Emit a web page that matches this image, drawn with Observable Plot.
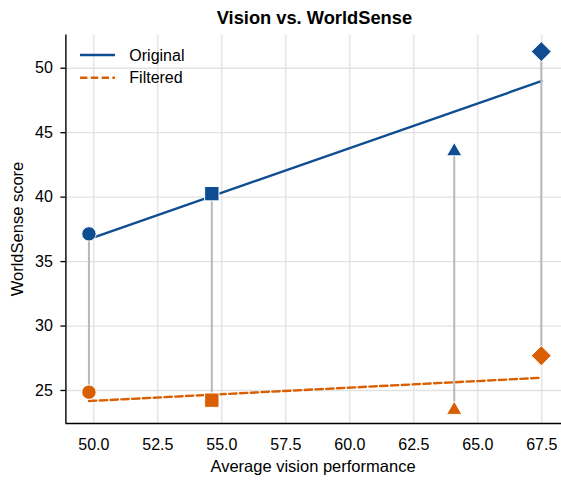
<!DOCTYPE html>
<html>
<head>
<meta charset="utf-8">
<script src="https://cdn.jsdelivr.net/npm/d3@7"></script>
<script src="https://cdn.jsdelivr.net/npm/@observablehq/plot@0.6"></script>
<style>
  html, body { margin: 0; padding: 0; background: #fff; }
  #wrap { position: relative; width: 561px; height: 481px; font-family: "Liberation Sans", Arial, sans-serif; }
  #wrap svg { display: block; }
  #overlay { position: absolute; left: 0; top: 0; pointer-events: none; }
</style>
</head>
<body>
<div id="wrap"></div>
<script>
// ---- data ----
const seriesNames = ["Original", "Filtered"];
const visionScores = [49.81, 54.61, 64.08, 67.48];
const originalScores = [37.15, 40.27, 43.72, 51.29];
const filteredScores = [24.87, 24.25, 23.66, 27.70];
const markerShapes = ["circle", "square", "triangle", "diamond2"];
const xTicks = [50.0, 52.5, 55.0, 57.5, 60.0, 62.5, 65.0, 67.5];
const yTicks = [25, 30, 35, 40, 45, 50];
const xDomain = [48.91, 68.27];
const yDomain = [22.44, 52.57];

const colors = { Original: "#0f4d92", Filtered: "#d95f02" };

const points = visionScores.map((x, i) => ({
  x, original: originalScores[i], filtered: filteredScores[i], shape: markerShapes[i]
}));
const long = points.flatMap(p => [
  { x: p.x, y: p.original, series: "Original", shape: p.shape },
  { x: p.x, y: p.filtered, series: "Filtered", shape: p.shape }
]);

const markerStyle = {
  circle: { r: 7.2, dy: 0 },
  square: { r: 8.1, dy: 0 },
  triangle: { r: 5.7, dy: 2.2 },
  diamond2: { r: 9, dy: 0 }
};

const dotMarks = markerShapes.map(s => Plot.dot(long.filter(d => d.shape === s), {
  x: "x", y: "y", symbol: s, r: markerStyle[s].r, dy: markerStyle[s].dy,
  fill: d => colors[d.series], stroke: "white", strokeWidth: 1
}));

const chart = Plot.plot({
  width: 561,
  height: 481,
  marginTop: 34.6,
  marginBottom: 58,
  marginLeft: 65.4,
  marginRight: 0,
  style: { fontFamily: "'Liberation Sans', Arial, sans-serif", fontSize: "16px", color: "black", background: "white" },
  x: { domain: xDomain },
  y: { domain: yDomain },
  marks: [
    Plot.gridX(xTicks, { stroke: "#e2e2e2", strokeOpacity: 1, strokeWidth: 1.3 }),
    Plot.gridY(yTicks, { stroke: "#e2e2e2", strokeOpacity: 1, strokeWidth: 1.3 }),
    Plot.linearRegressionY(long.filter(d => d.series === "Original"), {
      x: "x", y: "y", stroke: colors.Original, strokeWidth: 2.4, ci: 0
    }),
    Plot.linearRegressionY(long.filter(d => d.series === "Filtered"), {
      x: "x", y: "y", stroke: colors.Filtered, strokeWidth: 2.4, ci: 0, strokeDasharray: "7.4,3.4"
    }),
    Plot.ruleX(points, { x: "x", y1: "original", y2: "filtered", stroke: "#b8b8b8", strokeWidth: 2 }),
    ...dotMarks,
    Plot.axisX(xTicks, { tickSize: 0, tickPadding: 15, tickFormat: d3.format(".1f"), label: null, fontSize: 16 }),
    Plot.axisY(yTicks, { tickSize: 5, tickPadding: 8, label: null, fontSize: 16, strokeWidth: 1.3 }),
    Plot.ruleX([xDomain[0]], { stroke: "black", strokeWidth: 1.4 }),
    Plot.ruleY([yDomain[0]], { stroke: "black", strokeWidth: 1.4 })
  ]
});

const wrap = document.getElementById("wrap");
wrap.appendChild(chart);

// overlay: title, axis labels, legend
const ns = "http://www.w3.org/2000/svg";
const ov = document.createElementNS(ns, "svg");
ov.setAttribute("id", "overlay");
ov.setAttribute("width", 561);
ov.setAttribute("height", 481);
ov.setAttribute("font-family", "'Liberation Sans', Arial, sans-serif");
function txt(str, attrs) {
  const t = document.createElementNS(ns, "text");
  for (const k in attrs) t.setAttribute(k, attrs[k]);
  t.textContent = str;
  ov.appendChild(t);
  return t;
}
function line(attrs) {
  const l = document.createElementNS(ns, "line");
  for (const k in attrs) l.setAttribute(k, attrs[k]);
  ov.appendChild(l);
}
txt("Vision vs. WorldSense", { x: 314.4, y: 24, "text-anchor": "middle", "font-size": 18.3, "font-weight": "bold", fill: "black" });
txt("Average vision performance", { x: 313, y: 472, "text-anchor": "middle", "font-size": 16.5, fill: "black" });
txt("WorldSense score", { x: 0, y: 0, "text-anchor": "middle", "font-size": 16.5, fill: "black", transform: "translate(23,229) rotate(-90)" });
// legend
line({ x1: 80, x2: 115, y1: 55, y2: 55, stroke: colors.Original, "stroke-width": 2.4 });
line({ x1: 80, x2: 115, y1: 77.7, y2: 77.7, stroke: colors.Filtered, "stroke-width": 2.4, "stroke-dasharray": "7.4,3.4" });
txt(seriesNames[0], { x: 129.3, y: 55, "dominant-baseline": "central", "font-size": 16, fill: "black" });
txt(seriesNames[1], { x: 129.3, y: 77.7, "dominant-baseline": "central", "font-size": 16, fill: "black" });
wrap.appendChild(ov);
</script>
</body>
</html>
